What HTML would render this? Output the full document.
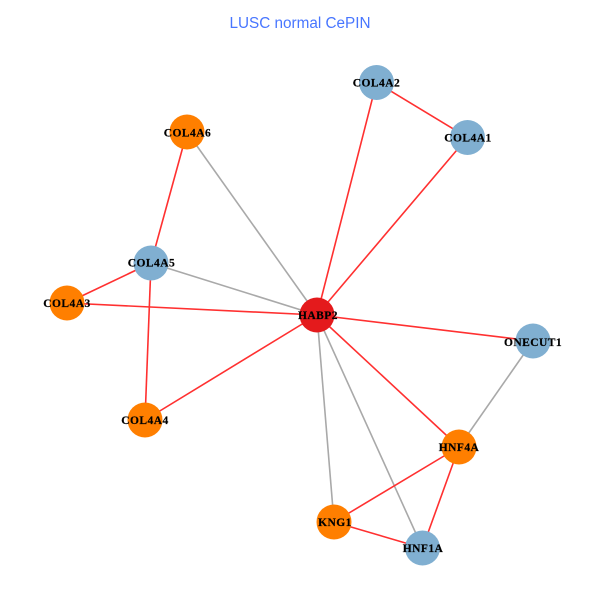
<!DOCTYPE html>
<html>
<head>
<meta charset="utf-8">
<style>
html,body{margin:0;padding:0;background:#fff;}
svg{display:block;}
.lab{font-family:"Liberation Serif",serif;font-weight:bold;font-size:11.5px;letter-spacing:.45px;fill:#000;stroke:#000;stroke-width:.2px;text-anchor:middle;}
</style>
</head>
<body>
<svg width="600" height="600" viewBox="0 0 600 600" xmlns="http://www.w3.org/2000/svg">
<rect width="600" height="600" fill="#fff"/>
<text x="300" y="28" font-family="'Liberation Sans',sans-serif" font-size="15.3" fill="#4876FF" text-anchor="middle">LUSC normal CePIN</text>
<g stroke="#A9A9A9" stroke-width="1.6" fill="none">
<line x1="187" y1="132" x2="317" y2="315"/>
<line x1="151" y1="263" x2="317" y2="315"/>
<line x1="317" y1="315" x2="334" y2="522"/>
<line x1="317" y1="315" x2="422.5" y2="548"/>
<line x1="533" y1="341" x2="459" y2="447"/>
</g>
<g stroke="#FF3030" stroke-width="1.6" fill="none">
<line x1="187" y1="132" x2="151" y2="263"/>
<line x1="151" y1="263" x2="67" y2="303"/>
<line x1="151" y1="263" x2="145" y2="420"/>
<line x1="67" y1="303" x2="317" y2="315"/>
<line x1="145" y1="420" x2="317" y2="315"/>
<line x1="376.500" y1="82.500" x2="317" y2="315"/>
<line x1="376.500" y1="82.500" x2="467.500" y2="137.500"/>
<line x1="467.500" y1="137.500" x2="317" y2="315"/>
<line x1="317" y1="315" x2="533" y2="341"/>
<line x1="317" y1="315" x2="459" y2="447"/>
<line x1="459" y1="447" x2="334" y2="522"/>
<line x1="459" y1="447" x2="422.500" y2="548"/>
<line x1="334" y1="522" x2="422.500" y2="548"/>
</g>
<g>
<circle cx="187" cy="132" r="17.500" fill="#FF7F00"/>
<circle cx="151" cy="263" r="17.500" fill="#80AFD1"/>
<circle cx="67" cy="303" r="17.500" fill="#FF7F00"/>
<circle cx="145" cy="420" r="17.500" fill="#FF7F00"/>
<circle cx="376.500" cy="82.500" r="17.500" fill="#80AFD1"/>
<circle cx="467.500" cy="137.500" r="17.500" fill="#80AFD1"/>
<circle cx="317" cy="315" r="17.500" fill="#E41A1C"/>
<circle cx="533" cy="341" r="17.500" fill="#80AFD1"/>
<circle cx="459" cy="447" r="17.500" fill="#FF7F00"/>
<circle cx="334" cy="522" r="17.500" fill="#FF7F00"/>
<circle cx="422.500" cy="548" r="17.500" fill="#80AFD1"/>
</g>
<g>
<text class="lab" x="187.500" y="136.500">COL4A6</text>
<text class="lab" x="151.500" y="266.500">COL4A5</text>
<text class="lab" x="67" y="307">COL4A3</text>
<text class="lab" x="145" y="424">COL4A4</text>
<text class="lab" x="376.500" y="86.500">COL4A2</text>
<text class="lab" x="468" y="141.500">COL4A1</text>
<text class="lab" x="318" y="319">HABP2</text>
<text class="lab" x="533" y="346">ONECUT1</text>
<text class="lab" x="459" y="451">HNF4A</text>
<text class="lab" x="335" y="526">KNG1</text>
<text class="lab" x="423" y="552">HNF1A</text>
</g>
</svg>
</body>
</html>
